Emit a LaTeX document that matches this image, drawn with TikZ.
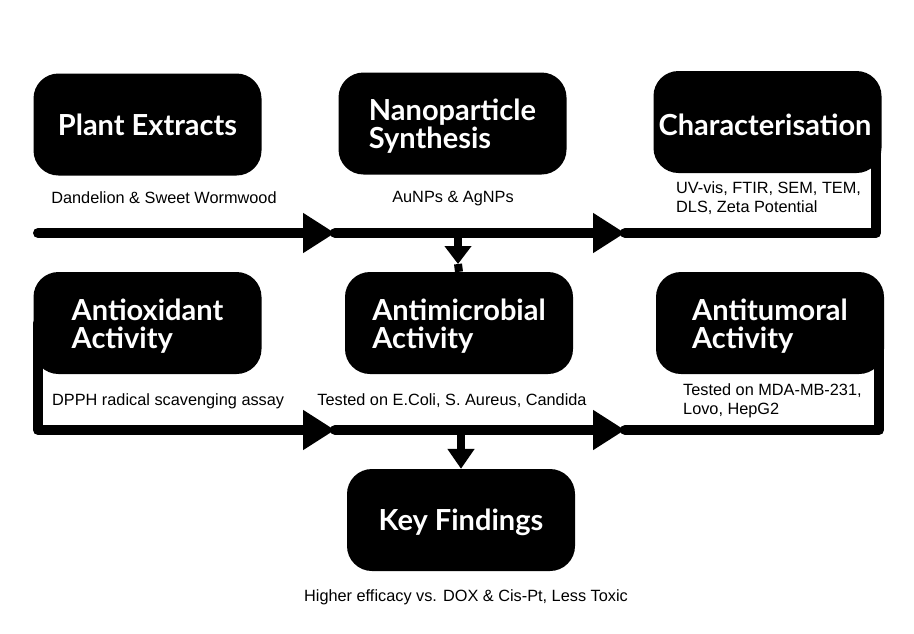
\documentclass[tikz,border=0pt]{standalone}
\usepackage{fontspec}
\setmainfont{Liberation Sans}
\newfontfamily\titlefont{Lato}
\usetikzlibrary{arrows.meta}
\newcommand{\tstrut}{\rule{0pt}{27pt}}
\begin{document}
\begin{tikzpicture}[x=1pt,y=-1pt,
 box/.style={fill=black, rounded corners=25pt, minimum width=228pt, minimum height=102pt, inner sep=0pt, text=white, font=\titlefont\bfseries\fontsize{29}{28}\selectfont, align=left},
 lab/.style={font=\fontsize{16.3}{18.5}\selectfont, inner sep=0pt, align=left},
 bus/.style={line width=10pt, line cap=round, line join=round},
 stem/.style={line width=8pt},
 big/.style={-{Triangle[length=32pt,width=38pt]}},
 small/.style={-{Triangle[length=20pt,width=26pt]}},
 smalltop/.style={-{Triangle[length=18pt,width=26pt]}}
]
\useasboundingbox (0,0) rectangle (914,633);
% boxes
\node[box] (plant) at (147.5,124.5) {Plant Extracts};
\node[box] (nano) at (452.5,123.5) {\tstrut Nanoparticle\\Synthesis};
\node[box] (char) at (767.5,122) {\tstrut Characterisation\hspace{5pt}};
\node[box] (antiox) at (147.5,323) {\tstrut Antioxidant\\Activity};
\node[box] (antimic) at (459,323) {\tstrut Antimicrobial\\Activity};
\node[box] (antitum) at (770,323) {\tstrut Antitumoral\\Activity};
\node[box] (key) at (461,520) {\tstrut Key Findings};
% labels
\node[lab] (l1) at (164,198) {Dandelion \& Sweet Wormwood};
\node[lab] (l2) at (453,199) {AuNPs \& AgNPs};
\node[lab, anchor=west] (l3) at (676,198) {UV-vis, FTIR, SEM, TEM,\\DLS, Zeta Potential};
\node[lab, anchor=west] (l4) at (52,401) {DPPH radical scavenging assay};
\node[lab] (l5) at (452,401) {Tested on E.Coli, S. Aureus, Candida};
\node[lab, anchor=west] (l6) at (683,401) {Tested on MDA-MB-231,\\Lovo, HepG2};
\node[lab] (l7) at (466,597) {Higher efficacy vs. DOX \& Cis-Pt, Less Toxic};
% top bus
\coordinate (s1) at (38,233);
\coordinate (a1) at (335,233);
\coordinate (a2) at (625,233);
\coordinate (e1) at (876,233);
\coordinate (j1) at (458,233);
\coordinate (t1) at (458,264);
\draw[bus,big] (s1) -- (a1);
\draw[bus,big] (a1) -- (a2);
\draw[bus] (a2) -- (e1) -- (e1 |- char.center);
\draw[stem] (t1) -- (antimic.north);
\draw[stem,smalltop] (j1) -- (t1);
% bottom bus
\coordinate (s2) at (38,430);
\coordinate (b1) at (335,430);
\coordinate (b2) at (625,430);
\coordinate (e2) at (879,430);
\coordinate (j2) at (461,430);
\draw[bus,big] (s2 |- antiox.center) -- (s2) -- (b1);
\draw[bus,big] (b1) -- (b2);
\draw[bus] (b2) -- (e2) -- (e2 |- antitum.center);
\draw[stem,small] (j2) -- (key.north);
\end{tikzpicture}
\end{document}
